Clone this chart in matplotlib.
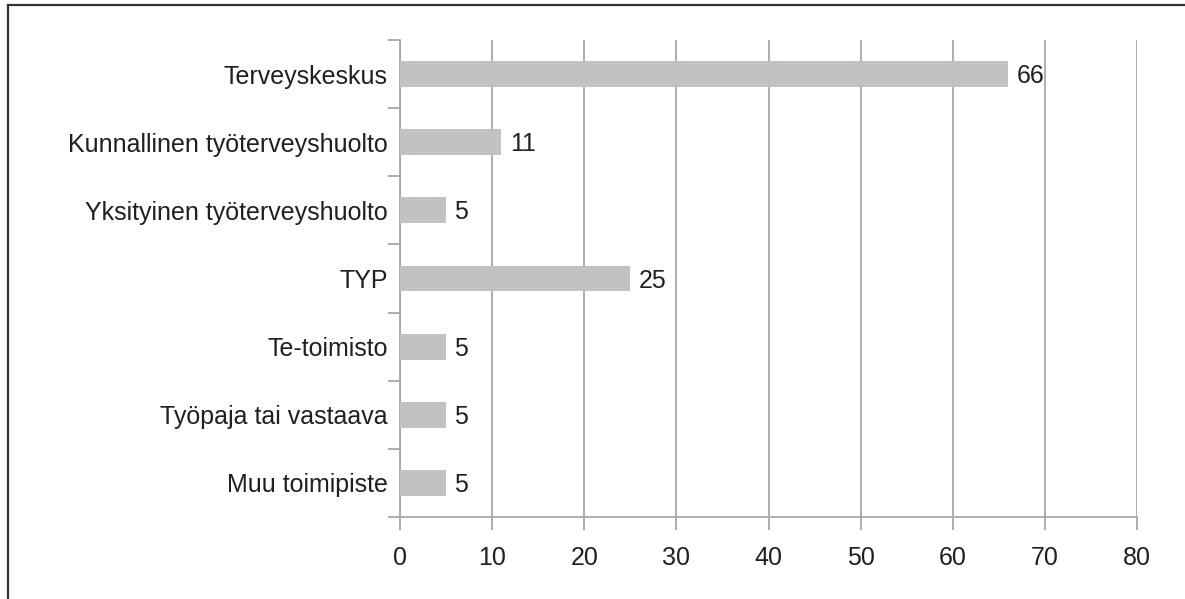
import matplotlib.pyplot as plt
from matplotlib.lines import Line2D

# Data
categories = ['Terveyskeskus', 'Kunnallinen työterveyshuolto', 'Yksityinen työterveyshuolto',
              'TYP', 'Te-toimisto', 'Työpaja tai vastaava', 'Muu toimipiste']
values = [66, 11, 5, 25, 5, 5, 5]
xticks = [0, 10, 20, 30, 40, 50, 60, 70, 80]

plt.rcParams['font.family'] = ['Liberation Sans', 'DejaVu Sans']
grid_col = '#a7a8aa'
fs = 18

fig = plt.figure(figsize=(11.85, 5.99), dpi=100)
ax = fig.add_axes([400 / 1185, 1 - 517 / 599, 737 / 1185, 477 / 599])

pos = list(range(len(categories)))
ax.barh(pos, values, height=0.38, color='#c1c2c4', zorder=3)
for p, v in zip(pos, values):
    ax.text(v + 0.9, p + 0.03, str(v), va='center', ha='left', fontsize=fs, color='#231f20')

ax.set_xlim(0, 80)
ax.set_ylim(len(categories) - 0.5, -0.5)
ax.set_xticks(xticks)
ax.set_xticklabels([str(t) for t in xticks], fontsize=fs, color='#231f20')
ax.xaxis.grid(True, color=grid_col, linewidth=1.3, zorder=0)

# category labels centred on bars, ticks at boundaries
ax.set_yticks(pos)
ax.set_yticklabels(categories, fontsize=fs, color='#231f20')
ax.tick_params(axis='y', length=0, pad=9)
ax.set_yticks([p - 0.5 for p in range(len(categories) + 1)], minor=True)
ax.tick_params(axis='y', which='minor', length=9, width=1.3, color=grid_col, direction='out')
ax.tick_params(axis='x', length=9, width=1.3, color=grid_col, direction='out', pad=12)

for side in ['top', 'right']:
    ax.spines[side].set_visible(False)
for side in ['left', 'bottom']:
    ax.spines[side].set_color(grid_col)
    ax.spines[side].set_linewidth(1.3)

# outer frame (top and left edges)
fig.add_artist(Line2D([8 / 1185, 1], [1 - 5 / 599, 1 - 5 / 599], transform=fig.transFigure,
                      color='#333333', linewidth=1.6))
fig.add_artist(Line2D([8 / 1185, 8 / 1185], [0, 1 - 5 / 599], transform=fig.transFigure,
                      color='#333333', linewidth=1.6))

fig.savefig('out.png', dpi=100)
